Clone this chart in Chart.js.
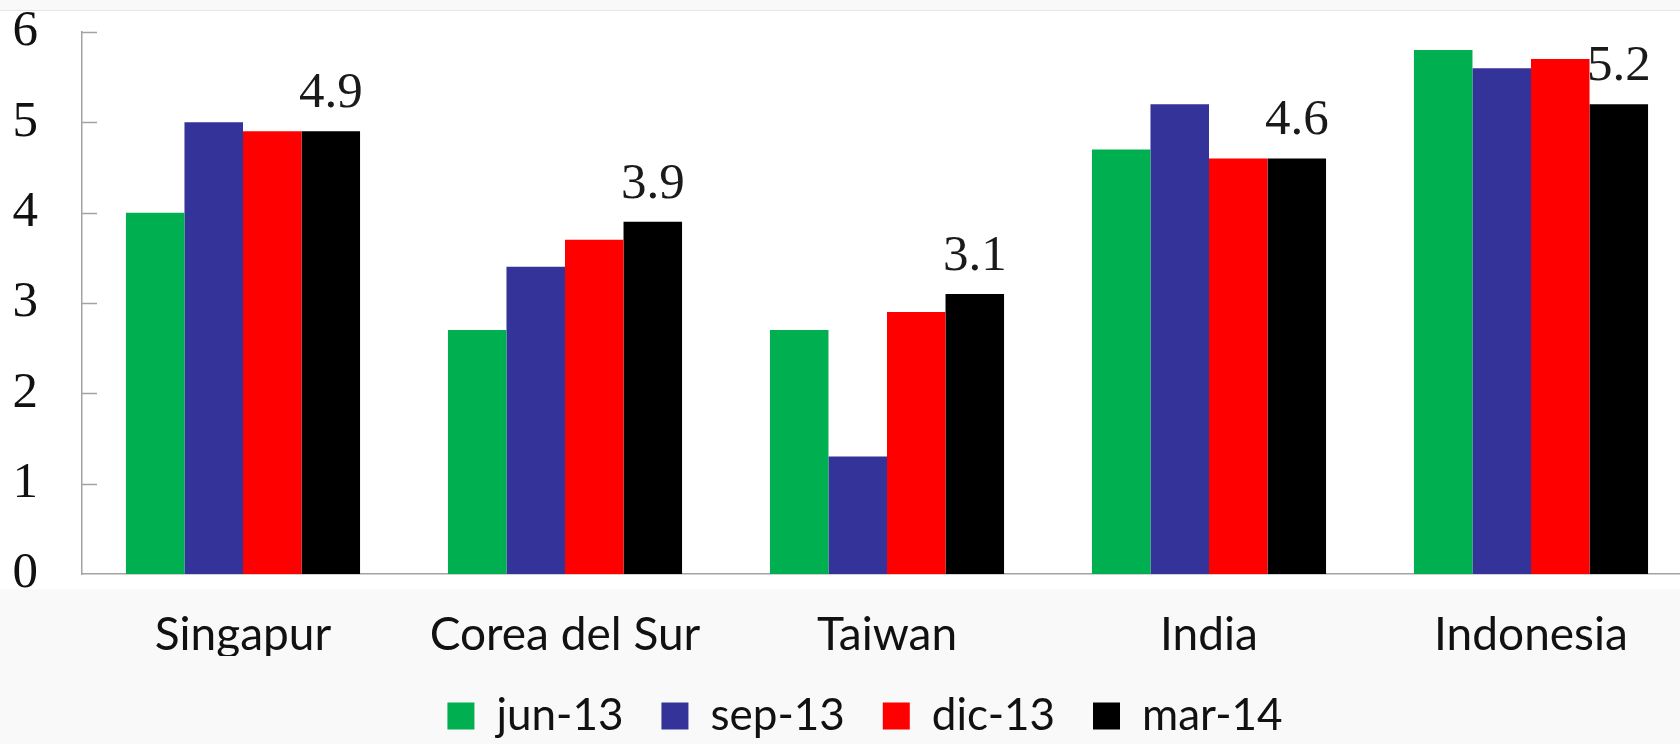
<!DOCTYPE html>
<html>
<head>
<meta charset="utf-8">
<script src="https://cdn.jsdelivr.net/npm/chart.js@4"></script>
<style>
  html, body { margin:0; padding:0; overflow:hidden; background:#f9f9f9; }
  #wrap { position:absolute; left:0; top:0; width:1700px; height:744px; }
  #sheet { position:absolute; left:0; top:10px; width:1680px; height:578px; background:#fff; border-top:1px solid #e4e4e4; }
</style>
</head>
<body>
<div id="sheet"></div>
<div id="wrap"><canvas id="chart"></canvas></div>
<script>
// categories / series
const countries = ['Singapur', 'Corea del Sur', 'Taiwan', 'India', 'Indonesia'];
const jun13 = [4.0, 2.7, 2.7, 4.7, 5.8];
const sep13 = [5.0, 3.4, 1.3, 5.2, 5.6];
const dic13 = [4.9, 3.7, 2.9, 4.6, 5.7];
const mar14 = [4.9, 3.9, 3.1, 4.6, 5.2];
const yTicks = [0, 1, 2, 3, 4, 5, 6];

const AXIS = '#a3a3a3';
const SERIF = '"Liberation Serif", "DejaVu Serif", serif';
const SANS = 'Lato, "Open Sans", sans-serif';

// fixed legend height, legend nudged right a bit like the original
const fixLegend = {
  id: 'fixLegend',
  beforeInit(chart){
    const lg = chart.legend;
    if(!lg) return;
    const orig = lg.fit;
    lg.fit = function(){ orig.call(this); this.height = 88; };
  },
  afterLayout(chart){
    const lg = chart.legend;
    if(!lg) return;
    lg.left += 14;
    lg.right += 14;
  }
};

// short tick marks drawn inside the plot
const innerTicks = {
  id: 'innerTicks',
  afterDraw(chart){
    const ctx = chart.ctx, a = chart.chartArea, y = chart.scales.y;
    ctx.save();
    ctx.strokeStyle = AXIS;
    ctx.lineWidth = 1.5;
    yTicks.slice(1).forEach(v => {
      const py = Math.round(y.getPixelForValue(v)) + 0.5;
      ctx.beginPath();
      ctx.moveTo(a.left, py);
      ctx.lineTo(a.left + 15, py);
      ctx.stroke();
    });
    ctx.restore();
  }
};

// value labels above the last series only
const lastLabels = {
  id: 'lastLabels',
  afterDatasetsDraw(chart){
    const ctx = chart.ctx;
    const meta = chart.getDatasetMeta(3);
    ctx.save();
    ctx.font = '51px ' + SERIF;
    ctx.fillStyle = '#1a1a1a';
    ctx.textAlign = 'center';
    ctx.textBaseline = 'alphabetic';
    meta.data.forEach((bar, i) => {
      ctx.fillText(mar14[i].toFixed(1), bar.x, bar.y - 24);
    });
    ctx.restore();
  }
};

new Chart(document.getElementById('chart'), {
  type: 'bar',
  data: {
    labels: countries,
    datasets: [
      { label:'jun-13', data: jun13, backgroundColor:'#00b050' },
      { label:'sep-13', data: sep13, backgroundColor:'#333399' },
      { label:'dic-13', data: dic13, backgroundColor:'#ff0000' },
      { label:'mar-14', data: mar14, backgroundColor:'#000000' }
    ]
  },
  options: {
    responsive: true,
    maintainAspectRatio: false,
    animation: false,
    datasets: { bar: { categoryPercentage: 0.727, barPercentage: 1.0 } },
    layout: { padding: { left: 10, right: 8, top: 32, bottom: 0 } },
    plugins: {
      tooltip: { enabled: false },
      legend: {
        position: 'bottom',
        labels: {
          boxWidth: 27, boxHeight: 27, padding: 38,
          color: '#111',
          font: { family: SANS, size: 44 }
        }
      }
    },
    scales: {
      x: {
        grid: { display: false, drawTicks: false },
        border: { display: true, color: AXIS, width: 1.5 },
        ticks: { color: '#111', padding: 34, font: { family: SANS, size: 46 } },
        afterFit(s){ s.height = 82; s.paddingLeft = 0; s.paddingRight = 0; }
      },
      y: {
        min: 0, max: 6,
        afterBuildTicks(scale){ scale.ticks = yTicks.map(v => ({ value: v })); },
        grid: { display: false, drawTicks: false },
        border: { display: true, color: AXIS, width: 1.5 },
        ticks: { color: '#111', padding: 44, crossAlign: 'near', font: { family: SERIF, size: 51 } },
        afterFit(s){ s.width = 72; s.paddingTop = 0; s.paddingBottom = 0; }
      }
    }
  },
  plugins: [fixLegend, innerTicks, lastLabels]
});
</script>
</body>
</html>
